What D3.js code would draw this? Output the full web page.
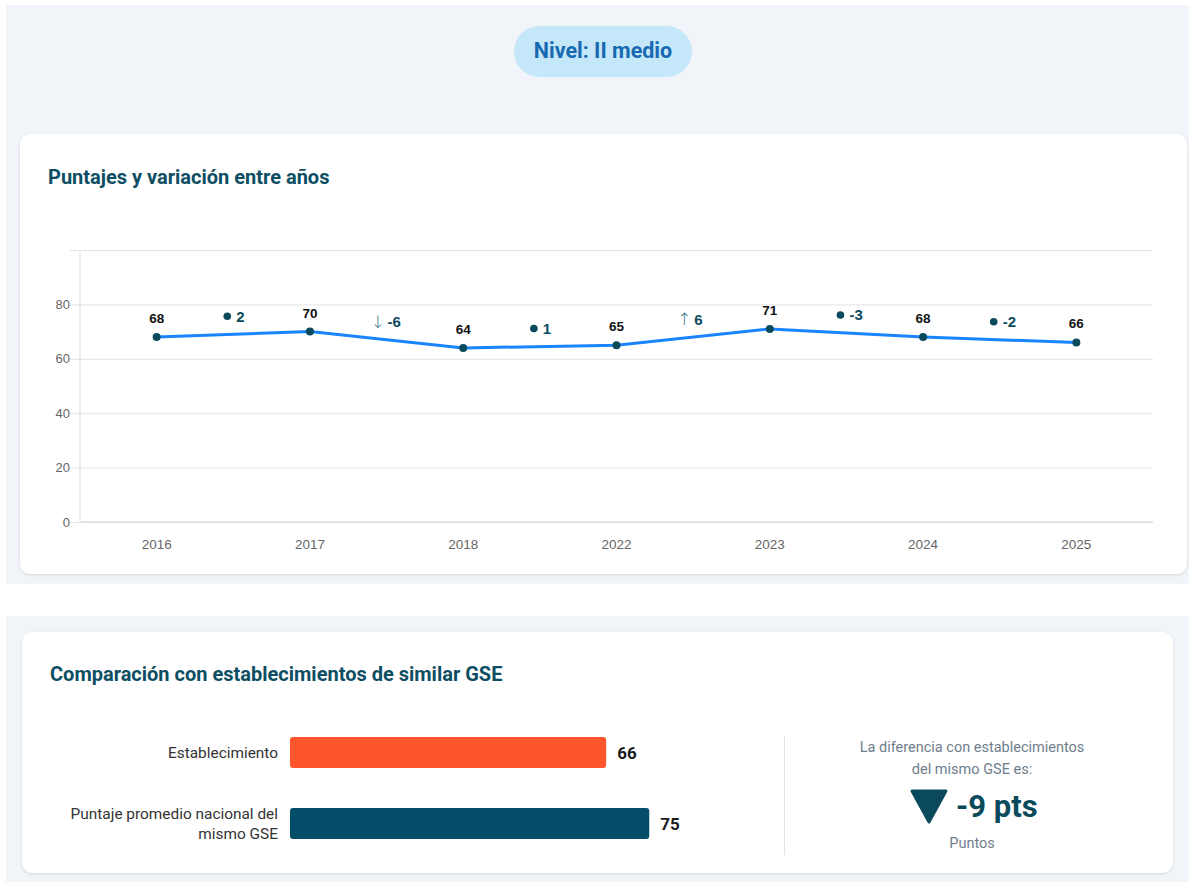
<!DOCTYPE html>
<html>
<head>
<meta charset="utf-8">
<script src="https://cdn.jsdelivr.net/npm/d3@7"></script>
<style>
  html, body { margin: 0; padding: 0; background: #ffffff; }
  svg { display: block; }
</style>
</head>
<body>
<svg id="page" width="1189" height="882"></svg>
<script>
// ---------- DATA ----------
const levelLabel = "Nivel: II medio";
const lineTitle = "Puntajes y variación entre años";
const years = ["2016", "2017", "2018", "2022", "2023", "2024", "2025"];
const scores = [68, 70, 64, 65, 71, 68, 66];
const variations = [2, -6, 1, 6, -3, -2];
const variationMarks = ["dot", "down", "dot", "up", "dot", "dot"];
const yTicks = [0, 20, 40, 60, 80, 100];
const yTickLabels = ["0", "20", "40", "60", "80", ""];

const barTitle = "Comparación con establecimientos de similar GSE";
const barCategories = [["Establecimiento"], ["Puntaje promedio nacional del", "mismo GSE"]];
const barValues = [66, 75];
const barColors = ["#ff552c", "#044d68"];
const diffText = ["La diferencia con establecimientos", "del mismo GSE es:"];
const diffValue = -9;
const diffUnit = "Puntos";

// ---------- LAYOUT ----------
const svg = d3.select("#page");
const defs = svg.append("defs");
const f = defs.append("filter").attr("id", "shadow").attr("x", "-5%").attr("y", "-10%").attr("width", "110%").attr("height", "125%");
f.append("feDropShadow").attr("dx", 0).attr("dy", 1).attr("stdDeviation", 1.5).attr("flood-color", "#000").attr("flood-opacity", 0.12);

const teal = "#0b4a5c";
const titleFont = "Roboto, 'Noto Sans', sans-serif";
const chartFont = "'Liberation Sans', Arial, sans-serif";

// section backgrounds
svg.append("rect").attr("x", 6).attr("y", 5).attr("width", 1183).attr("height", 579).attr("fill", "#f1f4f8");
svg.append("rect").attr("x", 6).attr("y", 616).attr("width", 1183).attr("height", 266).attr("fill", "#f1f4f8");

// pill
svg.append("rect").attr("x", 514).attr("y", 26).attr("width", 178).attr("height", 51).attr("rx", 25.5)
  .attr("fill", "#c5e7fa");
svg.append("text").attr("x", 603).attr("y", 58).attr("text-anchor", "middle")
  .attr("font-family", titleFont).attr("font-weight", 700).attr("font-size", 21.5).attr("fill", "#1769b0")
  .text(levelLabel);

// cards
svg.append("rect").attr("x", 20).attr("y", 134).attr("width", 1167).attr("height", 440).attr("rx", 11)
  .attr("fill", "#fff").attr("filter", "url(#shadow)");
svg.append("rect").attr("x", 22).attr("y", 632).attr("width", 1151).attr("height", 241).attr("rx", 11)
  .attr("fill", "#fff").attr("filter", "url(#shadow)");

// ---------- LINE CHART ----------
svg.append("text").attr("x", 48).attr("y", 184)
  .attr("font-family", titleFont).attr("font-weight", 700).attr("font-size", 20).attr("fill", "#0d4e63")
  .text(lineTitle);

const plot = { left: 80, right: 1153, top: 250, bottom: 522 };
const x = d3.scaleBand().domain(years).range([plot.left, plot.right]);
const y = d3.scaleLinear().domain([0, 100]).range([plot.bottom, plot.top]);
const cx = d => x(d) + x.bandwidth() / 2;

const g = svg.append("g");
// grid
const yAxis = d3.axisLeft(y).tickValues(yTicks).tickSize(-(plot.right - plot.left)).tickPadding(8)
  .tickFormat((d, i) => yTickLabels[i]);
const ya = g.append("g").attr("transform", `translate(${plot.left},0)`).call(yAxis);
ya.select(".domain").remove();
ya.selectAll(".tick line").attr("stroke", "#e3e3e3").attr("x1", -10);
ya.selectAll(".tick text").attr("font-family", chartFont).attr("font-size", 13).attr("fill", "#666").attr("dx", -2);
// y axis line
g.append("line").attr("x1", plot.left).attr("x2", plot.left).attr("y1", plot.top).attr("y2", plot.bottom).attr("stroke", "#e0e0e0");
g.append("line").attr("x1", plot.left).attr("x2", plot.right).attr("y1", plot.bottom).attr("y2", plot.bottom).attr("stroke", "#d6d6d6");

const xAxis = d3.axisBottom(x).tickSize(0).tickPadding(17);
const xa = g.append("g").attr("transform", `translate(0,${plot.bottom})`).call(xAxis);
xa.select(".domain").remove();
xa.selectAll(".tick text").attr("font-family", chartFont).attr("font-size", 13.5).attr("fill", "#666");

const pts = years.map((yr, i) => ({ yr, v: scores[i] }));
const line = d3.line().x(d => cx(d.yr)).y(d => y(d.v));
g.append("path").datum(pts).attr("d", line).attr("fill", "none").attr("stroke", "#1a84ff").attr("stroke-width", 3).attr("stroke-linejoin", "round");
g.selectAll("circle.pt").data(pts).join("circle").attr("class", "pt")
  .attr("cx", d => cx(d.yr)).attr("cy", d => y(d.v)).attr("r", 4).attr("fill", teal);
g.selectAll("text.val").data(pts).join("text").attr("class", "val")
  .attr("x", d => cx(d.yr)).attr("y", d => y(d.v) - 14).attr("text-anchor", "middle")
  .attr("font-family", chartFont).attr("font-weight", 700).attr("font-size", 13.5).attr("fill", "#111")
  .text(d => d.v);

// variation labels
const vars = variations.map((v, i) => ({
  v, mark: variationMarks[i],
  mx: (cx(years[i]) + cx(years[i + 1])) / 2,
  my: (y(scores[i]) + y(scores[i + 1])) / 2
}));
const vg = g.selectAll("g.var").data(vars).join("g").attr("class", "var")
  .attr("transform", d => `translate(${d.mx},${d.my - 18})`);
vg.each(function (d) {
  const s = d3.select(this);
  const t = s.append("text").attr("y", 5.5).attr("font-family", chartFont).attr("font-weight", 700)
    .attr("font-size", 15).attr("fill", teal);
  if (d.mark === "dot") {
    s.append("circle").attr("cx", -6).attr("cy", 0).attr("r", 3.8).attr("fill", teal);
    t.attr("x", 3).text(d.v);
  } else {
    s.append("text").attr("x", -9).attr("y", 6).attr("text-anchor", "middle")
      .attr("font-family", "'DejaVu Sans', sans-serif").attr("font-size", 17).attr("font-weight", 300).attr("fill", "#3f7787")
      .text(d.mark === "down" ? "↓" : "↑");
    t.attr("x", 1).text(d.v);
  }
});

// ---------- BAR CHART ----------
svg.append("text").attr("x", 50).attr("y", 681)
  .attr("font-family", titleFont).attr("font-weight", 700).attr("font-size", 20).attr("fill", "#0d4e63")
  .text(barTitle);

const bx = d3.scaleLinear().domain([0, 100]).range([290, 769]);
const by = d3.scaleBand().domain(d3.range(barValues.length)).range([717, 859]).paddingInner(0.5634).paddingOuter(0.2817);
const bars = barValues.map((v, i) => ({ v, i, label: barCategories[i], color: barColors[i] }));
const bg = svg.append("g");
bg.selectAll("rect.bar").data(bars).join("rect").attr("class", "bar")
  .attr("x", bx(0)).attr("y", d => by(d.i)).attr("width", d => bx(d.v) - bx(0)).attr("height", by.bandwidth())
  .attr("rx", 3).attr("fill", d => d.color);
bg.selectAll("text.bval").data(bars).join("text").attr("class", "bval")
  .attr("x", d => bx(d.v) + 11).attr("y", d => by(d.i) + by.bandwidth() / 2 + 6)
  .attr("font-family", titleFont).attr("font-weight", 700).attr("font-size", 17).attr("fill", "#1b1b1b")
  .text(d => d.v);
bg.selectAll("text.blab").data(bars).join("text").attr("class", "blab")
  .attr("text-anchor", "end").attr("font-family", titleFont).attr("font-size", 15.4).attr("fill", "#333")
  .each(function (d) {
    const t = d3.select(this);
    const n = d.label.length;
    const cyy = by(d.i) + by.bandwidth() / 2;
    d.label.forEach((ln, k) => {
      t.append("tspan").attr("x", 278).attr("y", cyy + 5 + (k - (n - 1) / 2) * 20).text(ln);
    });
  });

// divider
svg.append("line").attr("x1", 784.5).attr("x2", 784.5).attr("y1", 736).attr("y2", 855).attr("stroke", "#e2e2e2");

// difference panel
const dcx = 972;
diffText.forEach((ln, k) => {
  svg.append("text").attr("x", dcx).attr("y", 752 + k * 22).attr("text-anchor", "middle")
    .attr("font-family", titleFont).attr("font-size", 14.5).attr("fill", "#6f7e8c").text(ln);
});
svg.append("path").attr("d", "M912,791 L946,791 L929,822 Z").attr("fill", teal)
  .attr("stroke", teal).attr("stroke-width", 3).attr("stroke-linejoin", "round");
svg.append("text").attr("x", 956).attr("y", 817)
  .attr("font-family", titleFont).attr("font-weight", 700).attr("font-size", 31).attr("fill", teal)
  .text(`${diffValue} pts`);
svg.append("text").attr("x", dcx).attr("y", 848).attr("text-anchor", "middle")
  .attr("font-family", titleFont).attr("font-size", 14.5).attr("fill", "#6f7e8c").text(diffUnit);
</script>
</body>
</html>
